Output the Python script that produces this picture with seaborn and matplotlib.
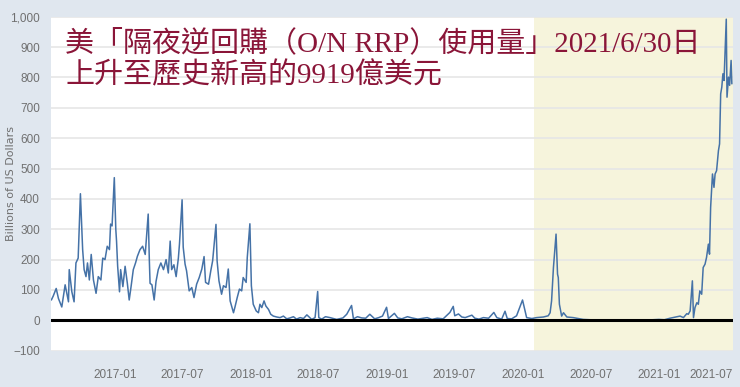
import matplotlib
matplotlib.use("Agg")
import matplotlib.pyplot as plt
import matplotlib.dates as mdates
from matplotlib.ticker import MultipleLocator, StrMethodFormatter
from matplotlib.transforms import ScaledTranslation
import pandas as pd
import seaborn as sns

# 隔夜逆回購使用量 (十億美元)，數值由圖上估讀
dates = [
    "2016-07-14", "2016-07-19", "2016-07-27", "2016-08-02", "2016-08-11", "2016-08-20",
    "2016-08-29", "2016-08-31", "2016-09-07", "2016-09-13", "2016-09-18", "2016-09-24",
    "2016-09-30", "2016-10-04", "2016-10-06", "2016-10-10", "2016-10-15", "2016-10-19",
    "2016-10-24", "2016-10-29", "2016-11-04", "2016-11-11", "2016-11-17", "2016-11-24",
    "2016-11-29", "2016-12-05", "2016-12-11", "2016-12-17", "2016-12-20", "2016-12-24",
    "2016-12-30",
    "2017-01-03", "2017-01-05", "2017-01-08", "2017-01-13", "2017-01-16", "2017-01-22",
    "2017-01-28", "2017-02-03", "2017-02-08", "2017-02-13", "2017-02-19", "2017-02-25",
    "2017-03-02", "2017-03-09", "2017-03-16", "2017-03-23", "2017-03-31", "2017-04-03",
    "2017-04-05", "2017-04-10", "2017-04-16", "2017-04-21", "2017-04-27", "2017-05-04",
    "2017-05-11", "2017-05-18", "2017-05-24", "2017-05-29", "2017-06-02", "2017-06-08",
    "2017-06-14", "2017-06-20", "2017-06-23", "2017-06-30", "2017-07-03", "2017-07-08",
    "2017-07-12", "2017-07-19", "2017-07-26", "2017-08-01", "2017-08-08", "2017-08-15",
    "2017-08-22", "2017-08-28", "2017-09-01", "2017-09-09", "2017-09-15", "2017-09-20",
    "2017-09-29", "2017-10-02", "2017-10-07", "2017-10-14", "2017-10-19", "2017-10-26",
    "2017-11-01", "2017-11-06", "2017-11-10", "2017-11-15", "2017-11-19", "2017-11-25",
    "2017-12-01", "2017-12-07", "2017-12-11", "2017-12-19", "2017-12-22", "2017-12-29",
    "2018-01-02", "2018-01-07", "2018-01-15", "2018-01-21", "2018-01-25", "2018-01-30",
    "2018-02-05", "2018-02-10", "2018-02-17", "2018-02-23", "2018-03-02", "2018-03-11",
    "2018-03-20", "2018-03-29", "2018-04-07", "2018-04-16", "2018-04-25", "2018-05-03",
    "2018-05-13", "2018-05-22", "2018-05-31", "2018-06-13", "2018-06-22", "2018-06-29",
    "2018-07-02", "2018-07-10", "2018-07-20", "2018-08-01", "2018-08-10", "2018-08-19",
    "2018-09-05", "2018-09-15", "2018-09-28", "2018-10-03", "2018-10-14", "2018-10-25",
    "2018-11-05", "2018-11-16", "2018-11-29", "2018-12-10", "2018-12-20", "2018-12-31",
    "2019-01-05", "2019-01-21", "2019-01-30", "2019-02-10", "2019-02-25", "2019-03-09",
    "2019-03-25", "2019-04-04", "2019-04-19", "2019-05-02", "2019-05-16", "2019-06-01",
    "2019-06-19", "2019-06-28", "2019-07-02", "2019-07-12", "2019-07-21", "2019-07-30",
    "2019-08-17", "2019-08-25", "2019-09-05", "2019-09-17", "2019-10-01", "2019-10-15",
    "2019-10-23", "2019-11-05", "2019-11-14", "2019-11-20", "2019-12-02", "2019-12-15",
    "2019-12-31",
    "2020-01-11", "2020-01-25", "2020-02-07", "2020-02-25", "2020-03-09", "2020-03-14",
    "2020-03-18", "2020-03-23", "2020-03-30", "2020-04-01", "2020-04-03", "2020-04-05",
    "2020-04-08", "2020-04-14", "2020-04-19", "2020-04-28", "2020-05-15", "2020-06-11",
    "2020-07-15", "2020-09-01", "2020-10-15", "2020-12-01", "2020-12-31",
    "2021-01-15", "2021-01-30", "2021-02-26", "2021-03-07", "2021-03-16", "2021-03-20",
    "2021-03-25", "2021-03-31", "2021-04-03", "2021-04-07", "2021-04-12", "2021-04-16",
    "2021-04-20", "2021-04-25", "2021-04-29", "2021-05-04", "2021-05-08", "2021-05-13",
    "2021-05-16", "2021-05-19", "2021-05-24", "2021-05-28", "2021-05-31", "2021-06-04",
    "2021-06-09", "2021-06-12", "2021-06-15", "2021-06-18", "2021-06-21", "2021-06-24",
    "2021-06-30", "2021-07-02", "2021-07-06", "2021-07-09", "2021-07-13", "2021-07-15",
]
values = [
    67, 80, 105, 72, 44, 117,
    61, 167, 94, 61, 189, 205,
    417, 300, 233, 167, 144, 189,
    133, 217, 133, 89, 144, 133,
    205, 200, 244, 233, 317, 311,
    470,
    300, 261, 178, 94, 167, 111,
    178, 122, 67, 111, 167, 189,
    211, 233, 244, 217, 350, 200,
    122, 117, 67, 128, 167, 189,
    167, 200, 156, 261, 167, 183,
    144, 205, 252, 397, 241, 185,
    163, 97, 108, 75, 119, 141,
    169, 210, 125, 119, 163, 196,
    316, 196, 130, 86, 114, 108,
    169, 64, 47, 25, 44, 75,
    103, 97, 141, 125, 207, 318,
    114, 53, 31, 25, 53, 42,
    64, 47, 36, 20, 14, 11,
    9, 14, 5, 8, 12, 4,
    9, 6, 18, 3, 9, 95,
    9, 4, 12, 9, 6, 3,
    8, 20, 49, 5, 12, 8,
    7, 20, 5, 9, 14, 43,
    6, 23, 8, 5, 12, 8,
    4, 6, 9, 3, 7, 5,
    26, 46, 15, 21, 11, 9,
    17, 7, 4, 9, 7, 26,
    9, 4, 30, 6, 5, 15,
    67,
    9, 6, 9, 11, 15, 25,
    64, 174, 284, 218, 152, 141,
    53, 14, 25, 11, 9, 3,
    1, 1, 0.5, 1, 3,
    2, 7, 14, 9, 22, 20,
    31, 130, 9, 42, 58, 53,
    97, 86, 174, 185, 207, 251,
    218, 372, 482, 438, 482, 493,
    559, 581, 746, 768, 812, 790,
    992, 735, 801, 774, 856, 779,
]

df = pd.DataFrame({"date": pd.to_datetime(dates), "rrp": values})

sns.set_style("white")
plt.rcParams["font.family"] = ["DejaVu Sans"]

fig = plt.figure(figsize=(7.4, 3.87), dpi=100, facecolor="#e0e7ef")
ax = fig.add_axes([0.0689, 0.0938, 0.9216, 0.863])
ax.set_facecolor("white")

# 陰影區 (2020-02 起)
ax.axvspan(pd.Timestamp("2020-02-01"), pd.Timestamp("2021-07-18"),
           color="#f6f4dc", zorder=0, lw=0)

sns.lineplot(data=df, x="date", y="rrp", ax=ax, color="#4572a7",
             linewidth=1.1, zorder=3)
ax.axhline(0, color="black", linewidth=2.2, zorder=4)

ax.set_xlim(pd.Timestamp("2016-07-13"), pd.Timestamp("2021-07-18"))
ax.set_ylim(-100, 1000)
ax.yaxis.set_major_locator(MultipleLocator(100))
ax.yaxis.set_major_formatter(StrMethodFormatter("{x:,.0f}"))
ax.xaxis.set_major_locator(mdates.MonthLocator(bymonth=[1, 7]))
ax.xaxis.set_major_formatter(mdates.DateFormatter("%Y-%m"))

ax.grid(axis="y", color="#e6e6e6", linewidth=1.2, zorder=1)
ax.set_axisbelow(True)
for s in ax.spines.values():
    s.set_visible(False)

tick_font = ["Liberation Sans Narrow", "Liberation Sans"]
ax.tick_params(axis="x", length=8, width=1, color="#c9d5e2", pad=5,
               labelsize=8.5, labelcolor="#707070")
ax.tick_params(axis="y", length=0, pad=8, labelsize=8.5, labelcolor="#707070")
for lab in ax.get_xticklabels() + ax.get_yticklabels():
    lab.set_family(tick_font)
last = ax.get_xticklabels()[-1]
last.set_horizontalalignment("right")
last.set_transform(last.get_transform() + ScaledTranslation(0.06, 0, fig.dpi_scale_trans))

ax.set_xlabel("")
ax.set_ylabel("Billions of US Dollars", fontsize=8, color="#707070")
ax.yaxis.set_label_coords(-0.052, 0.5)

title_font = ["Liberation Serif", "Noto Sans CJK TC"]
fig.text(0.088, 0.889, "美「隔夜逆回購（O/N RRP）使用量」2021/6/30日",
         family=title_font, fontsize=20.9, color="#8a1538", va="center", ha="left")
fig.text(0.088, 0.804, "上升至歷史新高的9919億美元",
         family=title_font, fontsize=20.9, color="#8a1538", va="center", ha="left")

fig.savefig("out.png", dpi=100, facecolor=fig.get_facecolor())
